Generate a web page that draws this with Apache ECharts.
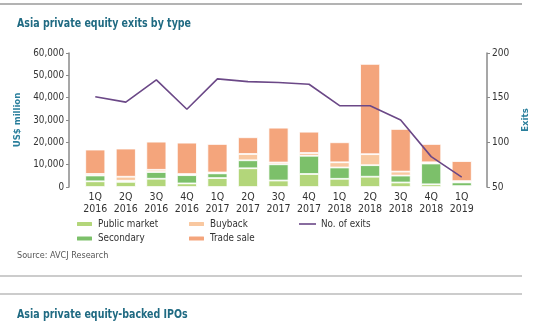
<!DOCTYPE html>
<html><head><meta charset="utf-8">
<script src="https://cdn.jsdelivr.net/npm/echarts@6/dist/echarts.min.js"></script>
<style>html,body{margin:0;padding:0;background:#fff}#c{width:540px;height:334px}</style>
</head><body><div id="c"></div>
<script>
const categories = ['1Q\n2016','2Q\n2016','3Q\n2016','4Q\n2016','1Q\n2017','2Q\n2017','3Q\n2017','4Q\n2017','1Q\n2018','2Q\n2018','3Q\n2018','4Q\n2018','1Q\n2019'];
const publicMarket = [2550, 2300, 3700, 1600, 4000, 8380, 2900, 5820, 3670, 4610, 2020, 1200, 400];
const secondary    = [2600,  500, 3000, 3700, 2100, 3580, 7260, 8150, 5060, 5150, 3090, 9320, 1650];
const buyback      = [ 700, 1800, 1000,  500,  400, 2820,  800, 1250, 2330, 4930, 1790,  540,  580];
const tradeSale    = [10900,12600,12600,14050,12760, 7480,15600, 9540, 8960,40410,19080, 8200, 8960];
const exits        = [151, 145, 170, 137, 171, 168, 167, 165, 141, 141, 125, 84, 61];
const leftTicks = {min: 0, max: 60000, interval: 10000};
const rightTicks = {min: 50, max: 200, interval: 50};

const FONT = "'Liberation Sans Narrow','DejaVu Sans Condensed','Roboto',sans-serif";
const chart = echarts.init(document.getElementById('c'), null, {renderer: 'canvas'});
const barBase = {type: 'bar', stack: 'v', barWidth: 20, yAxisIndex: 0};
const mk = (name, data, color) => Object.assign({}, barBase, {
  name, data, itemStyle: {color, borderColor: '#fff', borderWidth: 0.8}
});
const legendBase = {orient: 'vertical', itemWidth: 17, itemHeight: 6, itemGap: 4.5, padding: 0,
  textStyle: {fontFamily: FONT, fontSize: 9.8, color: '#333'}, selectedMode: false};
chart.setOption({
  animation: false,
  grid: {left: 80, right: 63, top: 53, bottom: 147},
  legend: [
    Object.assign({}, legendBase, {left: 75, top: 219, data: ['Public market', 'Secondary']}),
    Object.assign({}, legendBase, {left: 187, top: 219, data: ['Buyback', 'Trade sale']}),
    Object.assign({}, legendBase, {left: 299, top: 219, itemHeight: 1.6,
      data: [{name: 'No. of exits', icon: 'rect', itemStyle: {color: '#6b4887'}}]})
  ],
  xAxis: {type: 'category', data: categories,
    axisLine: {show: false}, axisTick: {show: false},
    axisLabel: {fontFamily: FONT, fontSize: 10.5, color: '#333', margin: 4, lineHeight: 12, interval: 0}},
  yAxis: [
    {type: 'value', min: leftTicks.min, max: leftTicks.max, interval: leftTicks.interval, offset: 11,
      name: 'US$ million', nameLocation: 'middle', nameRotate: 90, nameGap: 41,
      nameTextStyle: {fontFamily: FONT, fontSize: 9.5, fontWeight: 'bold', color: '#2a7f9c'},
      axisLine: {show: true, lineStyle: {color: '#8a8a8a', width: 1.5}},
      axisTick: {show: true, length: 3, lineStyle: {color: '#8a8a8a'}},
      splitLine: {show: false},
      axisLabel: {fontFamily: FONT, fontSize: 9.8, color: '#333', margin: 5,
        formatter: v => v.toLocaleString('en-US')}},
    {type: 'value', min: rightTicks.min, max: rightTicks.max, interval: rightTicks.interval, offset: 10,
      position: 'right',
      name: 'Exits', nameLocation: 'middle', nameRotate: 90, nameGap: 30,
      nameTextStyle: {fontFamily: FONT, fontSize: 9.5, fontWeight: 'bold', color: '#2a7f9c'},
      axisLine: {show: true, lineStyle: {color: '#8a8a8a', width: 1.5}},
      axisTick: {show: true, length: 3, lineStyle: {color: '#8a8a8a'}},
      splitLine: {show: false},
      axisLabel: {fontFamily: FONT, fontSize: 10, color: '#333', margin: 5}}
  ],
  series: [
    mk('Public market', publicMarket, '#b3d67a'),
    mk('Secondary', secondary, '#7cc06a'),
    mk('Buyback', buyback, '#f9c8a0'),
    mk('Trade sale', tradeSale, '#f4a57c'),
    {type: 'line', name: 'No. of exits', data: exits, yAxisIndex: 1, symbol: 'none',
      lineStyle: {color: '#6b4887', width: 1.6}, itemStyle: {color: '#6b4887'}}
  ],
  graphic: [
    {type: 'line', shape: {x1: 0, y1: 4, x2: 522, y2: 4}, style: {stroke: '#9a9a9a', lineWidth: 1.5}},
    {type: 'text', x: 17, y: 17, scaleX: 0.81, style: {text: 'Asia private equity exits by type', font: 'bold 13px ' + FONT, fill: '#1f6a82'}},
    {type: 'text', x: 17, y: 251, style: {text: 'Source: AVCJ Research', font: '9px ' + FONT, fill: '#555'}},
    {type: 'line', shape: {x1: 0, y1: 276, x2: 522, y2: 276}, style: {stroke: '#9a9a9a', lineWidth: 1.2}},
    {type: 'line', shape: {x1: 0, y1: 294, x2: 522, y2: 294}, style: {stroke: '#9a9a9a', lineWidth: 1.2}},
    {type: 'text', x: 17, y: 308, scaleX: 0.81, style: {text: 'Asia private equity-backed IPOs', font: 'bold 13px ' + FONT, fill: '#1f6a82'}}
  ]
});
</script></body></html>
